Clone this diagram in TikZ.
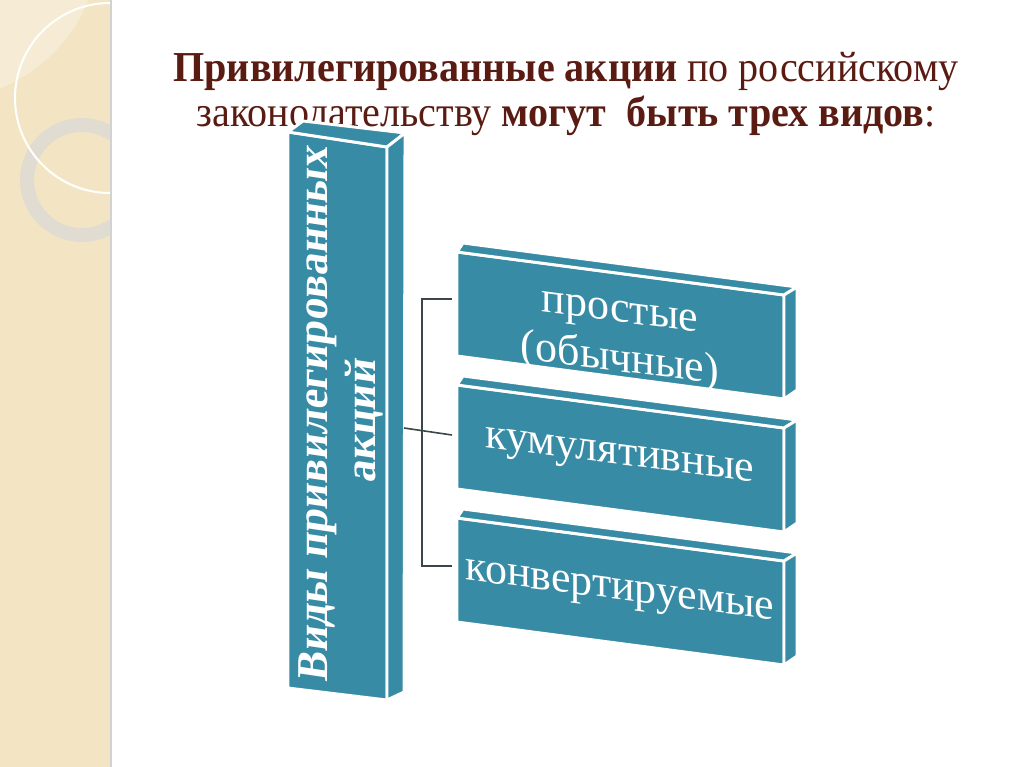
\documentclass[tikz,border=0pt]{standalone}
\usepackage{fontspec}
\setmainfont{Liberation Serif}
\newfontfamily\titlefont[FakeStretch=0.94]{Liberation Serif}
\usetikzlibrary{positioning, calc}
\definecolor{SlideTeal}{RGB}{56,139,164}
\definecolor{TitleBrown}{RGB}{90,28,18}
\definecolor{StripBeige}{RGB}{243,229,196}
\definecolor{RingGray}{RGB}{224,220,209}
\definecolor{LinkGray}{RGB}{58,70,74}

\tikzset{
  face/.style={fill=SlideTeal, draw=white, line width=2.2pt, line join=round},
  boxtext/.style={text=white, font=\fontsize{33}{37}\selectfont, align=center},
  titletext/.style={text=TitleBrown, font=\titlefont\fontsize{32}{35}\selectfont, anchor=base},
  link/.style={LinkGray, line width=1.2pt},
}

\begin{document}
\begin{tikzpicture}[x=0.75pt, y=-0.75pt]
\useasboundingbox (0,0) rectangle (1024,767);

% polosa sleva
\fill[StripBeige] (0,0) rectangle (111,767);
\begin{scope}
  \clip (0,0) rectangle (111,767);
  \fill[white, opacity=0.3] (-60,-60) circle (160);
  \draw[RingGray, line width=10.5pt] (82,180) circle (55);
  \draw[white, line width=1.5pt] (110,98) circle (95);
\end{scope}
\draw[gray!35, line width=0.8pt] (111,0) -- (111,767);

% zagolovok
\node[titletext] (title1) at (566,81)
  {{\bfseries Привилегированные акции} по российскому};
\node[titletext] (title2) at (566,126)
  {законодательству {\bfseries могут\ \ быть трех видов}:};

% vertikalnyj blok
\path[face] (288,132) -- (387,147) -- (387,700) -- (288,688) -- cycle;
\path[face] (288,132) -- (303,121) -- (405,133) -- (387,147) -- cycle;
\path[face] (387,147) -- (405,133) -- (404,692) -- (387,700) -- cycle;
\node[text=white, font=\bfseries\fontsize{33}{36}\selectfont, align=center,
      yslant=-0.15, rotate=90] (vids) at (341,417)
  {Виды привилегированных\\акций};

% tri bloka: verh/sdvig teksta/imja/tekst
\foreach \t/\dy/\n/\txt in {252/15/b1/{простые\\(обычные)}, 385/0/b2/{кумулятивные}, 518/2/b3/{конвертируемые}}{
  \path[face] (457,\t) -- (784,\t+43) -- (784,\t+147) -- (457,\t+104) -- cycle;
  \path[face] (457,\t) -- (463,\t-9) -- (797,\t+35) -- (784,\t+43) -- cycle;
  \path[face] (784,\t+43) -- (797,\t+35) -- (797,\t+138) -- (784,\t+147) -- cycle;
  \node[boxtext, yslant=-0.13] (\n) at (620,\t+74+\dy) {\txt};
}

% skobka
\coordinate (jx) at (422,0);
\coordinate (hub) at (404,428);
\coordinate (p1) at (452,299);
\coordinate (p2) at (452,435);
\coordinate (p3) at (452,566);
\draw[link] (p1) -- (p1 -| jx) -- (p3 -| jx) -- (p3);
\draw[link] (hub) -- (p2);

\end{tikzpicture}
\end{document}
